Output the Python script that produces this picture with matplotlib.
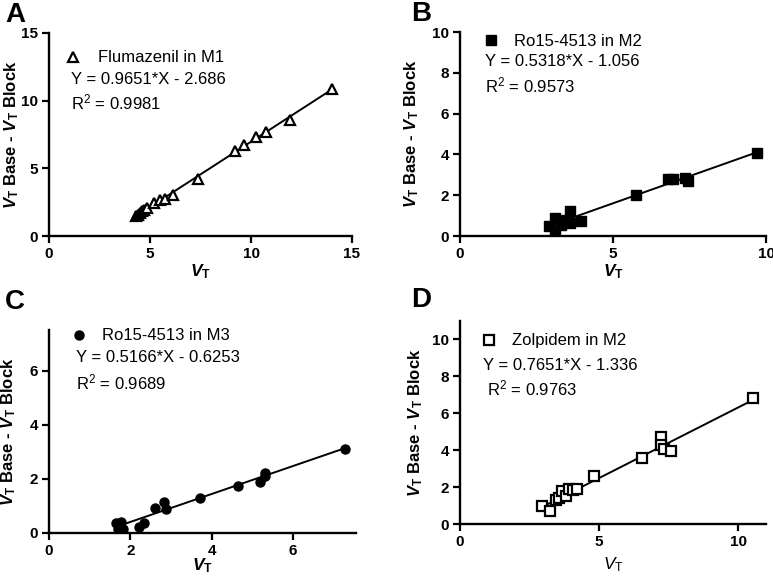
import matplotlib
matplotlib.use("Agg")
import matplotlib.pyplot as plt
import numpy as np
from matplotlib.lines import Line2D

plt.rcParams['font.family'] = ['Liberation Sans', 'DejaVu Sans']
plt.rcParams['mathtext.fontset'] = 'custom'
plt.rcParams['mathtext.rm'] = 'Liberation Sans'
plt.rcParams['mathtext.it'] = 'Liberation Sans:italic'
plt.rcParams['mathtext.bf'] = 'Liberation Sans:bold'
plt.rcParams['mathtext.bfit'] = 'Liberation Sans:italic:bold'

# ---- data ----
xA = [4.3, 4.4, 4.5, 4.6, 4.7, 4.85, 5.2, 5.5, 5.75, 6.15, 7.4, 9.2, 9.65, 10.25, 10.75, 11.95, 14.0]
yA = [1.5, 1.55, 1.7, 1.85, 1.95, 2.1, 2.45, 2.65, 2.75, 3.05, 4.2, 6.25, 6.7, 7.3, 7.7, 8.55, 10.85]
xB = [2.9, 3.1, 3.1, 3.3, 3.45, 3.6, 3.6, 3.95, 5.75, 6.8, 6.95, 7.35, 7.45, 9.7]
yB = [0.5, 0.9, 0.3, 0.55, 0.8, 1.25, 0.62, 0.75, 2.03, 2.8, 2.78, 2.82, 2.68, 4.05]
xC = [1.65, 1.7, 1.78, 1.82, 2.22, 2.33, 2.6, 2.83, 2.87, 3.71, 4.66, 5.2, 5.3, 5.32, 7.27]
yC = [0.37, 0.16, 0.42, 0.14, 0.22, 0.36, 0.91, 1.15, 0.89, 1.3, 1.75, 1.88, 2.2, 2.12, 3.12]
xD = [2.95, 3.22, 3.45, 3.55, 3.67, 3.8, 3.92, 4.05, 4.2, 4.82, 6.55, 7.22, 7.22, 7.32, 7.6, 10.53]
yD = [0.95, 0.72, 1.3, 1.4, 1.78, 1.5, 1.9, 1.85, 1.92, 2.6, 3.6, 4.7, 4.3, 4.05, 3.95, 6.82]

slopes = [0.9651, 0.5318, 0.5166, 0.7651]
intercepts = [-2.686, -1.056, -0.6253, -1.336]
names = ["Flumazenil in M1", "Ro15-4513 in M2", "Ro15-4513 in M3", "Zolpidem in M2"]
eqs = ["Y = 0.9651*X - 2.686", "Y = 0.5318*X - 1.056", "Y = 0.5166*X - 0.6253", "Y = 0.7651*X - 1.336"]
r2s = ["0.9981", "0.9573", "0.9689", "0.9763"]
letters = ["A", "B", "C", "D"]
xticks = [[0, 5, 10, 15], [0, 5, 10], [0, 2, 4, 6], [0, 5, 10]]
yticks = [[0, 5, 10, 15], [0, 2, 4, 6, 8, 10], [0, 2, 4, 6], [0, 2, 4, 6, 8, 10]]
xlims = [(0, 15), (0, 10), (0, 7.55), (0, 11)]
ylims = [(0, 15), (0, 10), (0, 7.5), (0, 11)]

W, H = 773, 579
fig = plt.figure(figsize=(W / 100, H / 100), dpi=100)

# axes boxes in pixels: left, right, top, bottom
boxes = [(49, 352, 33, 236), (460, 766, 32, 236), (49, 356, 330, 533), (460, 766, 321, 524)]
markers = [dict(marker='^', mfc='white', mec='black', ms=7.5, mew=1.6),
           dict(marker='s', mfc='black', mec='black', ms=6.5, mew=1),
           dict(marker='o', mfc='black', mec='black', ms=6.5, mew=1),
           dict(marker='s', mfc='white', mec='black', ms=6.5, mew=1.6)]
# legend marker px, legend text start px, eq (x,y) px, r2 (x,y) px
leg_px = [((73, 58), 98, (71, 79), (71, 102)),
          ((491, 41), 514, (485, 61), (485, 85)),
          ((79, 336), 102, (76, 358), (76, 382)),
          ((489, 341), 512, (483, 365), (487, 388))]
letter_px = [(5, 15), (411, 14), (5, 302), (411, 300)]
ylab_x = [12, 412, 9, 416]
xlab_y = [272, 272, 566, 565]

data = [(xA, yA), (xB, yB), (xC, yC), (xD, yD)]
ylab = r'$\mathbfit{V}_{\mathbf{T}}$ Base - $\mathbfit{V}_{\mathbf{T}}$ Block'

for i in range(4):
    l, r, t, b = boxes[i]
    ax = fig.add_axes([l / W, 1 - b / H, (r - l) / W, (b - t) / H])
    x, y = data[i]
    xs = np.array([min(x), max(x)])
    ax.plot(xs, slopes[i] * xs + intercepts[i], color='black', lw=1.4, zorder=2)
    ax.plot(x, y, ls='none', zorder=3, **markers[i])
    ax.set_xlim(*xlims[i])
    ax.set_ylim(*ylims[i])
    ax.set_xticks(xticks[i])
    ax.set_yticks(yticks[i])
    for s in ['top', 'right']:
        ax.spines[s].set_visible(False)
    for s in ['left', 'bottom']:
        ax.spines[s].set_linewidth(1.7)
    ax.tick_params(direction='out', length=5, width=1.6, labelsize=11, pad=3)
    for lab in ax.get_xticklabels() + ax.get_yticklabels():
        lab.set_fontweight('bold')
    ax.set_ylabel(ylab, fontsize=12, fontweight='bold')
    ax.yaxis.set_label_coords((ylab_x[i] - l) / (r - l), 0.5)
    if i == 3:
        ax.set_xlabel(r'$\mathit{V}_{\mathrm{T}}$', fontsize=12.5)
    else:
        ax.set_xlabel(r'$\mathbfit{V}_{\mathbf{T}}$', fontsize=12.5)
    ax.xaxis.set_label_coords(0.5, (b - xlab_y[i]) / (b - t))
    ax.xaxis.label.set_va('center')
    ax.yaxis.label.set_va('center')
    ax.patch.set_alpha(0)

    (mx, my), tx, (ex, ey), (rx, ry) = leg_px[i]
    handle = Line2D([], [], ls='none', **markers[i])
    fs = 12
    fspx = fs * 100 / 72
    hl = 1.0
    fig.legend(handles=[handle], labels=[names[i]], loc='center left',
               bbox_to_anchor=((mx - hl * fspx / 2) / W, 1 - my / H),
               frameon=False, fontsize=fs, handlelength=hl,
               handletextpad=(tx - mx - hl * fspx / 2) / fspx,
               borderpad=0, borderaxespad=0)
    fig.text(ex / W, 1 - ey / H, eqs[i], fontsize=fs, va='center', ha='left')
    fig.text(rx / W, 1 - ry / H, r'R$^2$ = ' + r2s[i], fontsize=fs, va='center', ha='left')
    fig.text(letter_px[i][0] / W, 1 - letter_px[i][1] / H, letters[i], fontsize=20,
             fontweight='bold', va='center', ha='left')

fig.savefig('out.png', dpi=100)
